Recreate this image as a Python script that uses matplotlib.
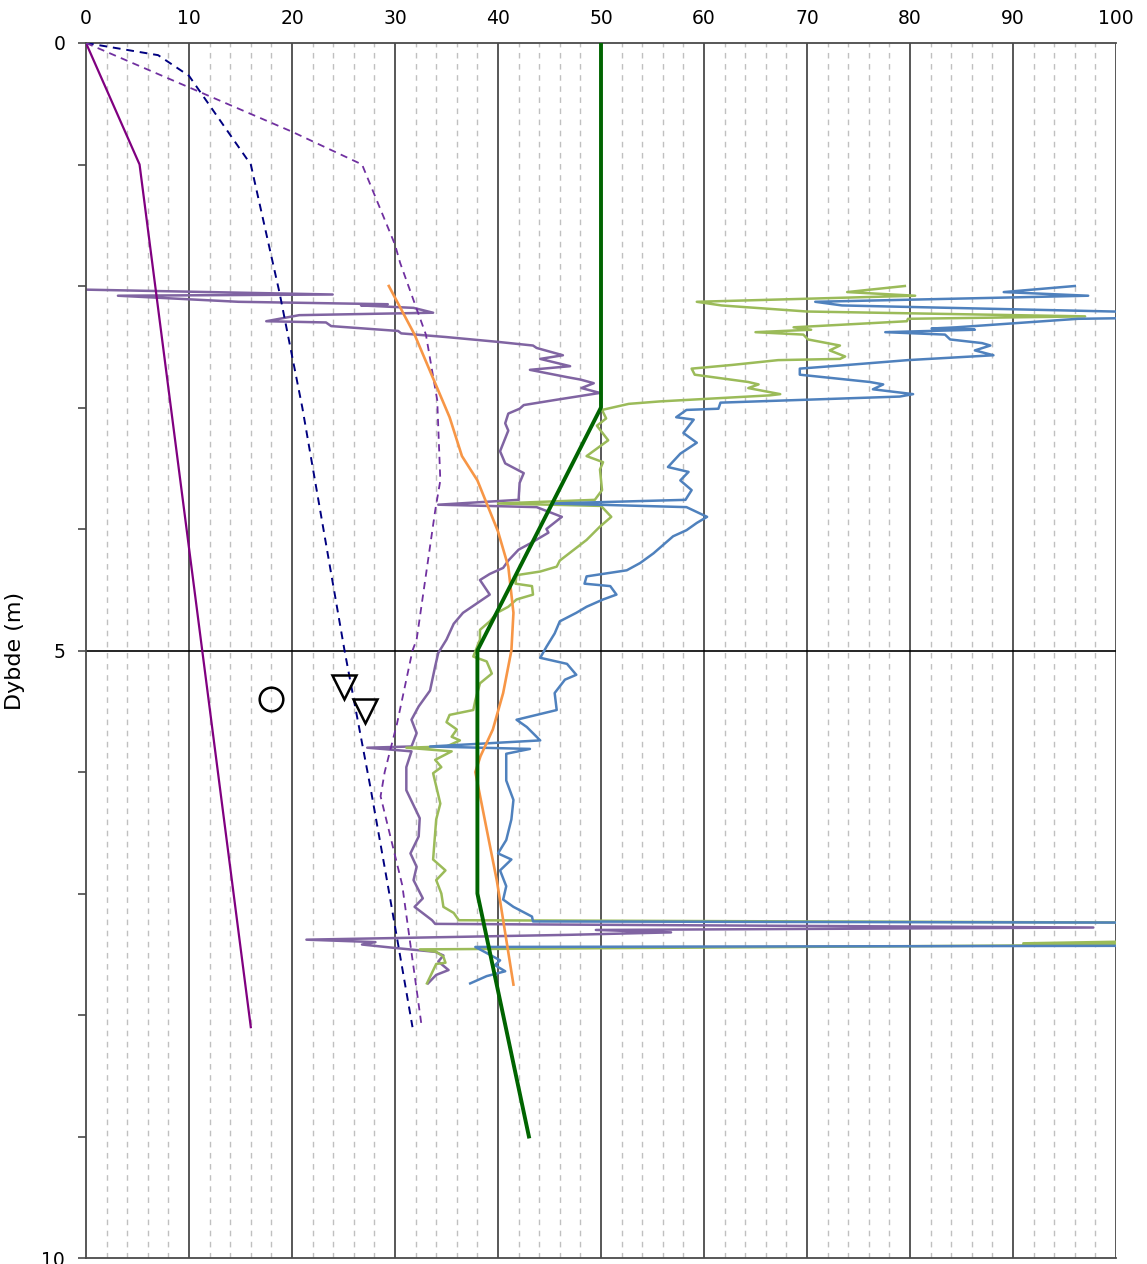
import matplotlib
matplotlib.use("Agg")
import matplotlib.pyplot as plt
from matplotlib.ticker import FixedLocator

plt.rcParams['font.family'] = ['DejaVu Sans']

# ---------------- data (x value, depth m) ----------------
line_solid_x = [0, 5.2, 16.0]
line_solid_d = [0, 1.0, 8.1]

navy_dash_x = [0, 7.0, 10.0, 16.0, 18.8, 21.0, 25.1, 27.6, 29.3, 31.7]
navy_dash_d = [0, 0.1, 0.27, 1.0, 2.06, 3.0, 5.0, 6.12, 6.93, 8.1]

purple_dash_x = [0, 20.0, 26.8, 30.0, 30.5, 33.0, 34.1, 34.4, 33.9, 32.1, 31.7, 30.2, 29.0, 28.6, 30.7, 32.6]
purple_dash_d = [0, 0.73, 1.0, 1.66, 1.81, 2.4, 2.94, 3.6, 3.85, 4.91, 5.0, 5.6, 6.0, 6.2, 6.93, 8.1]

orange_x = [29.4, 31.9, 35.3, 36.5, 38.0, 40.0, 41.0, 41.5, 41.3, 40.5, 39.5, 38.3, 37.8, 39.9, 41.5]
orange_d = [2.0, 2.4, 3.08, 3.4, 3.6, 4.02, 4.31, 4.69, 5.0, 5.35, 5.65, 5.87, 6.0, 6.9, 7.75]

green_thick_x = [50, 50, 50, 50, 44, 38, 38, 38, 40.5, 43]
green_thick_d = [0, 1, 2, 3, 4, 5, 6, 7, 8, 9]

circle_x = [18.0]
circle_d = [5.4]
tri_x = [25.0, 27.1]
tri_d = [5.3, 5.5]

cpt_purple_x = [0, 23.95, 3.1, 14.8, 29.3, 26.7, 31.8, 33.7, 20.7, 17.5, 23.3, 23.8, 30.3, 30.6, 34.95,
                40, 43.4, 43.75, 46.3, 44.1, 47, 43.1, 46.7, 48, 49.3, 48.1, 49.9, 45.4, 42.5, 42.1, 41,
                40.7, 41, 40.2, 40.7, 42.5, 42.1, 42, 34.2, 43.75, 46.2, 44.7, 44.9, 43.1, 42, 41, 40.5,
                39.2, 38.25, 39.2, 36.6, 35.7, 35, 34.2, 33.9, 33.4, 32.3, 31.6, 32.1, 31.6, 27.3, 31.6,
                31.1, 31.1, 32.4, 32.3, 31.5, 32.1, 31.8, 32.7, 31.9, 33.6, 33.9, 97.8, 49.5, 56.8, 47,
                21.4, 28.1, 26.8, 30.2, 33.9, 34.7, 34.2, 35.2, 34, 33.2]
cpt_purple_d = [2.03, 2.07, 2.08, 2.13, 2.15, 2.16, 2.18, 2.22, 2.24, 2.29, 2.30, 2.33, 2.37, 2.39, 2.42,
                2.46, 2.49, 2.51, 2.57, 2.60, 2.66, 2.69, 2.75, 2.77, 2.80, 2.84, 2.88, 2.94, 2.98, 3.01, 3.05,
                3.13, 3.19, 3.36, 3.46, 3.54, 3.62, 3.76, 3.80, 3.82, 3.90, 4.0, 4.03, 4.12, 4.17, 4.26, 4.32,
                4.37, 4.42, 4.54, 4.69, 4.78, 4.91, 5.02, 5.13, 5.33, 5.46, 5.57, 5.68, 5.79, 5.80, 5.83,
                5.96, 6.15, 6.38, 6.53, 6.67, 6.78, 6.89, 7.04, 7.11, 7.22, 7.25, 7.28, 7.30, 7.32, 7.34,
                7.38, 7.40, 7.42, 7.45, 7.48, 7.51, 7.56, 7.63, 7.67, 7.74]

cpt_green_x = [79.5, 73.9, 80.5, 59.3, 61.7, 70, 97, 79.8, 79.7, 68.7, 70.4, 65, 69.65, 70.1, 73.2, 72.2,
               73.7, 73.2, 67.2, 62.7, 58.8, 59.1, 64.3, 65.3, 64.3, 67.4, 66.4, 55.7, 52.7, 50.1, 50.5,
               49.6, 50.7, 48.6, 50.2, 49.9, 50.1, 49.4, 40, 50, 51, 49.9, 48.6, 46, 45.7, 44.1, 41.8, 41.7,
               43.3, 43.4, 41.8, 41, 39.9, 39.2, 38.25, 38.25, 37.6, 38.9, 39.4, 38.25, 37.8, 37.6, 35.3,
               35, 36, 35.5, 36.3, 35, 31.1, 35.5, 33.9, 34.5, 33.7, 34.4, 34, 33.7, 34.9, 34, 34.5, 34.7,
               35.7, 36.2, 105, 105, 91, 105, 32.4, 34, 34.7, 34.9, 34, 33.1]
cpt_green_d = [2.0, 2.05, 2.08, 2.13, 2.16, 2.21, 2.25, 2.27, 2.29, 2.34, 2.36, 2.38, 2.40, 2.44, 2.49, 2.53,
               2.58, 2.60, 2.61, 2.65, 2.68, 2.73, 2.79, 2.81, 2.84, 2.89, 2.90, 2.95, 2.97, 3.02, 3.09,
               3.15, 3.27, 3.40, 3.45, 3.51, 3.68, 3.76, 3.79, 3.81, 3.90, 3.98, 4.09, 4.26, 4.31, 4.35, 4.38, 4.45,
               4.47, 4.54, 4.58, 4.64, 4.69, 4.76, 4.83, 4.91, 5.05, 5.09, 5.19, 5.27, 5.41, 5.49, 5.53,
               5.59, 5.65, 5.71, 5.74, 5.79, 5.80, 5.83, 5.90, 5.96, 6.01, 6.26, 6.39, 6.72, 6.81, 6.89, 7.0, 7.11,
               7.16, 7.22, 7.24, 7.39, 7.41, 7.42, 7.46, 7.48, 7.52, 7.57, 7.58, 7.74]

cpt_blue_x = [96, 89.1, 97.3, 70.8, 73.4, 105, 105, 96.3, 84.5, 82.1, 86.3, 77.6, 83.4, 83.9, 87, 87.8,
              86.3, 88.1, 79.8, 73.9, 69.3, 69.3, 76.1, 77.4, 76.4, 80.3, 79, 61.6, 61.4, 58.3, 57.3, 59,
              58, 59.3, 57.7, 56.5, 58.5, 57.7, 58.8, 58.2, 45.2, 58.3, 60.3, 59.3, 58.3, 57, 55.1, 53.8,
              52.5, 48.6, 48.4, 50.9, 51.5, 50.2, 48.6, 47.6, 46, 45.5, 44.7, 44.1, 46.7, 47.6, 46.5, 45.5,
              45.7, 41.8, 42.8, 44.1, 33.4, 43.1, 40.8, 40.8, 41.5, 41.3, 40.8, 40, 41.3, 40.2, 40.8, 40.5,
              41.5, 43.3, 43.4, 105, 105, 37.8, 38.9, 40.2, 39.7, 40.7, 38.9, 37.3]
cpt_blue_d = [2.0, 2.05, 2.08, 2.13, 2.16, 2.22, 2.26, 2.27, 2.34, 2.35, 2.36, 2.38, 2.40, 2.44, 2.47, 2.49,
              2.53, 2.57, 2.61, 2.65, 2.68, 2.73, 2.79, 2.81, 2.85, 2.89, 2.91, 2.96, 3.01, 3.02, 3.08, 3.10,
              3.21, 3.29, 3.38, 3.49, 3.53, 3.60, 3.68, 3.76, 3.79, 3.82, 3.90, 3.95, 4.01, 4.06, 4.20, 4.28,
              4.34, 4.39, 4.45, 4.47, 4.54, 4.58, 4.64, 4.69, 4.76, 4.86, 4.97, 5.06, 5.11, 5.20, 5.24, 5.35,
              5.49, 5.57, 5.63, 5.74, 5.79, 5.81, 5.85, 6.07, 6.23, 6.39, 6.56, 6.67, 6.72, 6.81, 6.94, 7.05,
              7.11, 7.19, 7.23, 7.24, 7.43, 7.44, 7.49, 7.55, 7.59, 7.64, 7.68, 7.74]

x_ticks = [0, 10, 20, 30, 40, 50, 60, 70, 80, 90, 100]
y_ticks = [0, 5, 10]

# ---------------- figure ----------------
W, H = 1147, 1264
fig = plt.figure(figsize=(W / 100, H / 100), dpi=100)
ax = fig.add_axes([86 / W, 1 - 1258 / H, (1116 - 86) / W, (1258 - 43) / H])

ax.set_xlim(0, 100)
ax.set_ylim(10, 0)

# grid
for v in range(2, 100, 2):
    if v % 10:
        ax.axvline(v, color='#c0c0c0', lw=1.0, ls=(0, (4, 4)), zorder=0)
for v in range(10, 101, 10):
    ax.axvline(v, color='#4a4a4a', lw=1.3, zorder=0.5)
ax.axhline(5, color='black', lw=1.2, zorder=0.6)

# CPT traces
ax.plot(cpt_purple_x, cpt_purple_d, color='#8064A2', lw=1.8, zorder=2)
ax.plot(cpt_green_x, cpt_green_d, color='#9BBB59', lw=1.8, zorder=2)
ax.plot(cpt_blue_x, cpt_blue_d, color='#4F81BD', lw=1.8, zorder=2)

# other lines
ax.plot(line_solid_x, line_solid_d, color='#800080', lw=1.6, zorder=3)
ax.plot(navy_dash_x, navy_dash_d, color='#000080', lw=1.4, ls=(0, (4, 3)), zorder=3)
ax.plot(purple_dash_x, purple_dash_d, color='#7030A0', lw=1.3, ls=(0, (4, 3)), zorder=3)
ax.plot(orange_x, orange_d, color='#F79646', lw=1.9, zorder=3)
ax.plot(green_thick_x, green_thick_d, color='#006400', lw=2.8, zorder=4)

ax.plot(circle_x, circle_d, ls='none', marker='o', ms=17, mfc='none', mec='black', mew=1.8, zorder=5)
ax.plot(tri_x, tri_d, ls='none', marker='v', ms=17, mfc='none', mec='black', mew=1.8, zorder=5)

# axes styling
ax.xaxis.tick_top()
ax.set_xticks(x_ticks)
ax.set_xticklabels([str(v) for v in x_ticks])
ax.tick_params(axis='x', length=0, pad=11, labelsize=13.5, colors='black')
ax.set_yticks(y_ticks)
ax.set_yticklabels([str(v) for v in y_ticks])
ax.yaxis.set_minor_locator(FixedLocator([1, 2, 3, 4, 6, 7, 8, 9]))
ax.tick_params(axis='y', which='major', length=6, width=1.2, color='#4a4a4a', labelsize=13.5, pad=9)
ax.tick_params(axis='y', which='minor', length=6, width=1.2, color='#4a4a4a')
for s in ['top', 'left', 'bottom']:
    ax.spines[s].set_color('#4a4a4a')
    ax.spines[s].set_linewidth(1.3)
ax.spines['right'].set_visible(False)

ax.set_ylabel('Dybde (m)', fontsize=16, labelpad=12)

fig.savefig('out.png', dpi=100)
